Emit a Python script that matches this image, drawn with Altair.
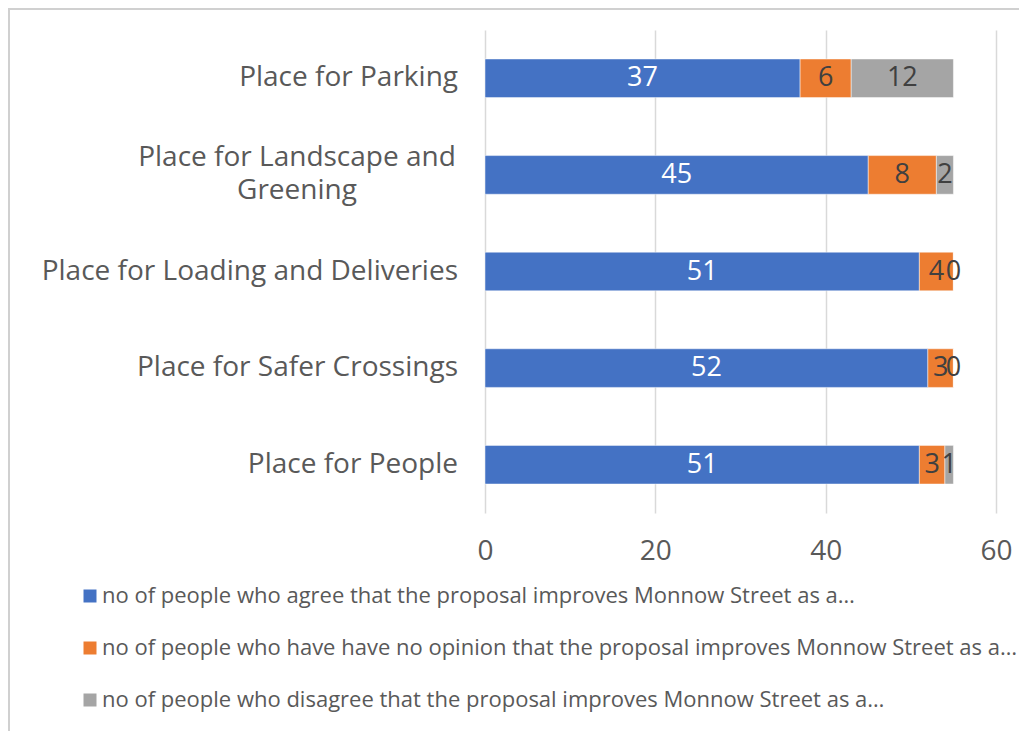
import altair as alt
import pandas as pd

categories = [
    "Place for Parking",
    "Place for Landscape and Greening",
    "Place for Loading and Deliveries",
    "Place for Safer Crossings",
    "Place for People",
]
agree = [37, 45, 51, 52, 51]
no_opinion = [6, 8, 4, 3, 3]
disagree = [12, 2, 0, 0, 1]
series = [
    "no of people who agree that the proposal improves Monnow Street as a…",
    "no of people who have have no opinion that the proposal improves Monnow Street as a…",
    "no of people who disagree that the proposal improves Monnow Street as a…",
]
colors = ["#4472C4", "#ED7D31", "#A5A5A5"]
x_ticks = [0, 20, 40, 60]

rows = []
for i, cat in enumerate(categories):
    start = 0
    for s_idx, vals in enumerate([agree, no_opinion, disagree]):
        v = vals[i]
        rows.append({
            "category": cat,
            "series": series[s_idx],
            "order": s_idx,
            "value": v,
            "start": start,
            "end": start + v,
            "mid": start + v / 2,
            "white": s_idx == 0,
        })
        start += v
df = pd.DataFrame(rows)

FONT = "Open Sans"
TXT = "#595959"

y_enc = alt.Y("category:N", sort=categories, axis=None,
              scale=alt.Scale(paddingInner=0.6, paddingOuter=0.3))

bars = alt.Chart(df).mark_bar(stroke="white", strokeWidth=0.8, strokeOpacity=0.6).encode(
    y=y_enc,
    x=alt.X("start:Q", scale=alt.Scale(domain=[0, 60]),
            axis=alt.Axis(values=x_ticks, title=None, domain=False, ticks=False,
                          grid=True, gridColor="#D9D9D9", gridWidth=1.5,
                          labelFont=FONT, labelFontSize=28, labelColor=TXT,
                          labelPadding=24, labelFlush=False)),
    x2="end:Q",
    color=alt.Color("series:N", sort=series,
                    scale=alt.Scale(domain=series, range=colors),
                    legend=alt.Legend(title=None, orient="none", direction="vertical",
                                      legendX=-406, legendY=555,
                                      symbolType="square", symbolSize=169,
                                      symbolStrokeWidth=0, symbolOpacity=1,
                                      labelFont=FONT, labelFontSize=22,
                                      labelColor=TXT, labelLimit=1000,
                                      rowPadding=30, labelOffset=1)),
    order=alt.Order("order:Q"),
)

labels = alt.Chart(df).mark_text(font=FONT, fontSize=27, baseline="middle", align="center").encode(
    y=y_enc,
    x=alt.X("mid:Q"),
    text=alt.Text("value:Q"),
    color=alt.condition("datum.white", alt.value("white"), alt.value("#404040")),
)

single = [c for c in categories if c != "Place for Landscape and Greening"]
ylab_df = pd.DataFrame({"category": single})
ylab = alt.Chart(ylab_df).mark_text(font=FONT, fontSize=28, align="right",
                                    baseline="middle", color=TXT).encode(
    y=y_enc, x=alt.value(-27), text="category:N")

ylab2_df = pd.DataFrame({"category": ["Place for Landscape and Greening"],
                         "text": ["Place for Landscape and\nGreening"]})
ylab2 = alt.Chart(ylab2_df).mark_text(font=FONT, fontSize=28, align="center",
                                      baseline="middle", color=TXT, lineBreak="\n",
                                      lineHeight=33, dy=-17).encode(
    y=y_enc, x=alt.value(-188), text="text:N")

border_df = pd.DataFrame({"k": [0]})
border = alt.Chart(border_df).mark_rect(fillOpacity=0, stroke="#D0D0D0", strokeWidth=2).encode(
    x=alt.value(-476), x2=alt.value(600), y=alt.value(-21), y2=alt.value(800))

chart = alt.layer(bars, labels, ylab, ylab2, border).properties(
    width=511, height=483,
    padding={"left": 477, "top": 22, "right": 23, "bottom": 218},
    autosize=alt.AutoSizeParams(type="none"),
    background="white",
).configure_view(strokeWidth=0, stroke="transparent")

chart.save("out.html", embed_options={"renderer": "svg", "actions": False})
